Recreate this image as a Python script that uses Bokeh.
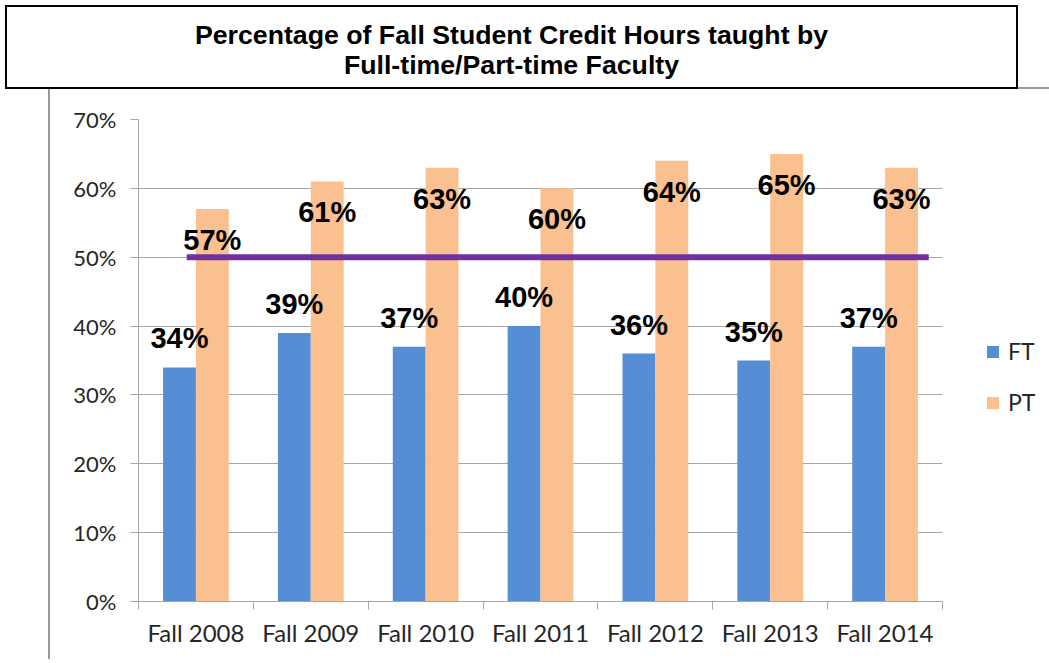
from bokeh.plotting import figure
from bokeh.models import (Range1d, FixedTicker, PrintfTickFormatter, Legend, LegendItem,
                          Div, Spacer, ColumnDataSource)
from bokeh.layouts import column, row
from bokeh.core.properties import value
from bokeh.embed import file_html
from bokeh.resources import INLINE

# ---- data ----
categories = ["Fall 2008", "Fall 2009", "Fall 2010", "Fall 2011", "Fall 2012", "Fall 2013", "Fall 2014"]
ft_values = [34, 39, 37, 40, 36, 35, 37]
pt_values = [57, 61, 63, 60, 64, 65, 63]
target = 50
y_ticks = [0, 10, 20, 30, 40, 50, 60, 70]
series_names = ["FT", "PT"]
title_lines = ["Percentage of Fall Student Credit Hours taught by", "Full-time/Part-time Faculty"]

BLUE = "#558ED5"
PEACH = "#FAC090"
PURPLE = "#7030A0"
GRID = "#A6A6A6"
AX_FONT = "Lato"
LBL_FONT = "Liberation Sans"

n = len(categories)
centers = [i + 0.5 for i in range(n)]
off = 0.143
bw = 0.286
ft_src = ColumnDataSource(dict(x=[c - off for c in centers], top=ft_values,
                               lab=[f"{v}%" for v in ft_values]))
pt_src = ColumnDataSource(dict(x=[c + off for c in centers], top=pt_values,
                               lab=[f"{v}%" for v in pt_values]))

H = 570
ML, MR, MT, MB = 88, 14, 30, 58
FRAME_W = 804
W = ML + FRAME_W + MR
p = figure(width=W, height=H, output_backend="svg", toolbar_location=None,
           x_range=Range1d(0, n), y_range=Range1d(0, 70),
           min_border_left=ML, min_border_right=MR, min_border_top=MT, min_border_bottom=MB)
p.outline_line_color = None
p.background_fill_color = "white"
p.border_fill_color = "white"

p.vbar(x="x", top="top", width=bw, bottom=0, source=ft_src, fill_color=BLUE, line_color=None)
p.vbar(x="x", top="top", width=bw, bottom=0, source=pt_src, fill_color=PEACH, line_color=None)

# 50% reference line
p.segment(x0=[0.42], y0=[target], x1=[6.88], y1=[target], line_color=PURPLE, line_width=6)

# data labels
p.text(x="x", y="top", text="lab", source=ft_src, text_align="center", text_baseline="alphabetic",
       y_offset=-29, text_font=value(LBL_FONT), text_font_style="bold", text_font_size="29px",
       text_color="black")
p.text(x="x", y="top", text="lab", source=pt_src, text_align="center", text_baseline="alphabetic",
       y_offset=31, text_font=value(LBL_FONT), text_font_style="bold", text_font_size="29px",
       text_color="black")

# y axis
p.yaxis.ticker = FixedTicker(ticks=y_ticks)
p.yaxis.formatter = PrintfTickFormatter(format="%d%%")
p.yaxis.axis_line_color = GRID
p.yaxis.major_tick_line_color = GRID
p.yaxis.major_tick_out = 8
p.yaxis.major_tick_in = 0
p.yaxis.minor_tick_line_color = None
p.yaxis.major_label_standoff = 14
p.yaxis.major_label_text_font = AX_FONT
p.yaxis.major_label_text_font_size = "22px"
p.yaxis.major_label_text_color = "#262626"

# x axis: labels at centers, tick marks between categories (minor ticks)
p.xaxis.ticker = FixedTicker(ticks=centers, minor_ticks=list(range(n + 1)))
p.xaxis.major_label_overrides = {c: cat for c, cat in zip(centers, categories)}
p.xaxis.axis_line_color = GRID
p.xaxis.major_tick_line_color = None
p.xaxis.major_tick_out = 8
p.xaxis.major_tick_in = 0
p.xaxis.minor_tick_line_color = GRID
p.xaxis.minor_tick_out = 8
p.xaxis.minor_tick_in = 0
p.xaxis.major_label_standoff = 8
p.xaxis.major_label_text_font = AX_FONT
p.xaxis.major_label_text_font_size = "24px"
p.xaxis.major_label_text_color = "#262626"

p.xgrid.grid_line_color = None
p.ygrid.grid_line_color = GRID
p.ygrid.ticker = FixedTicker(ticks=y_ticks)

# legend panel (separate small figure to the right of the plot)
LW = 1049 - 50 - W
pl = figure(width=LW, height=H, output_backend="svg", toolbar_location=None,
            x_range=Range1d(0, 1), y_range=Range1d(0, 1), x_axis_type=None, y_axis_type=None,
            min_border=0, min_border_left=0, min_border_right=0, min_border_top=0, min_border_bottom=0)
pl.outline_line_color = None
pl.grid.visible = False
# legend-only renderers: a point placed outside the visible range so only the legend swatch shows
hidden = ColumnDataSource(dict(x=[10], top=[10]))
lr_ft = pl.vbar(x="x", top="top", bottom=9, width=0.1, source=hidden, fill_color=BLUE, line_color=None)
lr_pt = pl.vbar(x="x", top="top", bottom=9, width=0.1, source=hidden, fill_color=PEACH, line_color=None)
legend = Legend(items=[LegendItem(label=series_names[0], renderers=[lr_ft]),
                       LegendItem(label=series_names[1], renderers=[lr_pt])],
                location=(985 - 50 - W, 185), margin=0, padding=0, spacing=23,
                glyph_width=15, glyph_height=15, label_standoff=8,
                label_text_font=AX_FONT, label_text_font_size="23px", label_text_color="#262626",
                border_line_color=None, background_fill_alpha=0)
pl.add_layout(legend, "center")

title_html = (
    '<div style="box-sizing:border-box;width:1013px;height:84px;border:2px solid #000;'
    'padding-top:6px;display:flex;flex-direction:column;justify-content:center;align-items:center;'
    'font-family:\'Liberation Sans\',Arial,sans-serif;font-weight:bold;font-size:26.7px;'
    'line-height:30px;color:#000;text-align:center;">'
    + "<br>".join(title_lines) + "</div>"
)
title_div = Div(text=title_html, width=1013, height=84, margin=0)
edge_div = Div(text='<div style="box-sizing:border-box;width:31px;height:84px;border-bottom:2px solid #9a9a9a"></div>',
               width=31, height=84, margin=0)
line_div = Div(text='<div style="width:2px;height:%dpx;background:#9a9a9a"></div>' % H,
               width=2, height=H, margin=0)
top_row = row(title_div, edge_div, spacing=0, margin=(5, 0, 0, 5))
layout = column(top_row, row(Spacer(width=48, height=H, margin=0), line_div, p, pl, spacing=0), spacing=0)

open("out.html", "w").write(file_html(layout, INLINE))
